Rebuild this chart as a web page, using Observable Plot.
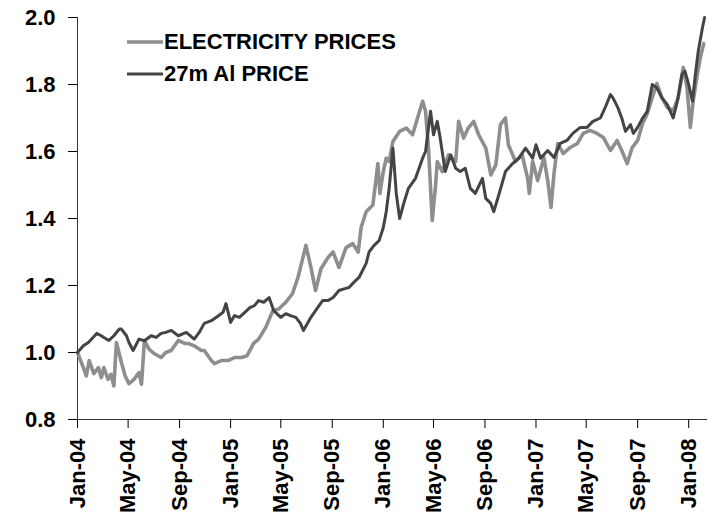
<!DOCTYPE html>
<html>
<head>
<meta charset="utf-8">
<script src="https://cdn.jsdelivr.net/npm/d3@7"></script>
<script src="https://cdn.jsdelivr.net/npm/@observablehq/plot@0.6"></script>
<style>
  html, body { margin: 0; padding: 0; background: #fff; }
  #wrap { position: relative; width: 709px; height: 514px; font-family: "Liberation Sans", Arial, sans-serif; }
  #legend { position: absolute; left: 127px; top: 26px; font-weight: bold; font-size: 22px; color: #000; }
  #legend .row { display: flex; align-items: center; height: 32px; }
  #legend svg { width: 36px; height: 6px; margin-right: 1px; }
</style>
</head>
<body>
<div id="wrap"><div id="chart"></div><div id="legend"></div></div>
<script>
// ---- Data ----
const seriesNames = ["ELECTRICITY PRICES", "27m Al PRICE"];
const seriesColors = ["#8e8e8e", "#444444"];

const elecDates = [
  "2004-01-01","2004-01-15","2004-01-22","2004-01-29","2004-02-09","2004-02-20","2004-02-27","2004-03-04",
  "2004-03-14","2004-03-21","2004-03-28","2004-04-03","2004-04-15","2004-04-24","2004-05-03","2004-05-15",
  "2004-05-27","2004-06-02","2004-06-09","2004-06-20","2004-07-02","2004-07-19","2004-07-30","2004-08-12",
  "2004-08-29","2004-09-13","2004-09-22","2004-10-06","2004-10-23","2004-10-30","2004-11-16","2004-11-23",
  "2004-12-10","2004-12-26",
  "2005-01-10","2005-01-27","2005-02-09","2005-02-25","2005-03-09","2005-03-26","2005-04-12","2005-04-26",
  "2005-05-13","2005-05-29","2005-06-11","2005-06-23","2005-06-30","2005-07-12","2005-07-23","2005-08-05",
  "2005-08-22","2005-09-03","2005-09-17","2005-10-04","2005-10-20","2005-11-02","2005-11-09","2005-11-21",
  "2005-12-07","2005-12-14","2005-12-19","2005-12-24",
  "2006-01-01","2006-01-08","2006-01-15","2006-01-24","2006-02-09","2006-02-25","2006-03-12","2006-03-19",
  "2006-04-05","2006-04-12","2006-04-19","2006-04-28","2006-05-06","2006-05-10","2006-05-22","2006-06-06",
  "2006-06-23","2006-06-30","2006-07-12","2006-07-23","2006-08-05","2006-08-17","2006-09-03","2006-09-15",
  "2006-09-27","2006-10-08","2006-10-20","2006-10-27","2006-11-13","2006-11-29","2006-12-12","2006-12-16",
  "2006-12-24",
  "2007-01-05","2007-01-20","2007-01-29","2007-02-06","2007-02-13","2007-02-22","2007-03-07","2007-03-24",
  "2007-04-10","2007-04-24","2007-05-10","2007-05-27","2007-06-11","2007-06-28","2007-07-14","2007-07-25",
  "2007-08-07","2007-08-19","2007-09-01","2007-09-13","2007-09-24","2007-10-06","2007-10-17","2007-10-29",
  "2007-11-11","2007-11-25","2007-12-07","2007-12-19","2007-12-28",
  "2008-01-05","2008-01-12","2008-01-22","2008-01-29","2008-02-06"
];
const elecValues = [
  1.00,0.955,0.93,0.976,0.937,0.955,0.925,0.955,
  0.92,0.935,0.90,1.03,0.97,0.93,0.907,0.92,
  0.94,0.905,1.036,1.01,0.997,0.985,1.00,1.006,
  1.036,1.027,1.027,1.02,1.006,1.006,0.976,0.967,
  0.976,0.976,
  0.985,0.985,0.99,1.027,1.04,1.075,1.125,1.13,
  1.15,1.176,1.224,1.284,1.32,1.254,1.185,1.25,
  1.284,1.30,1.254,1.313,1.325,1.30,1.373,1.42,
  1.44,1.51,1.564,1.475,
  1.54,1.58,1.57,1.63,1.66,1.67,1.65,1.68,
  1.75,1.72,1.61,1.394,1.50,1.57,1.54,1.59,
  1.57,1.69,1.64,1.67,1.69,1.65,1.61,1.53,
  1.56,1.68,1.70,1.62,1.57,1.59,1.52,1.475,
  1.57,
  1.513,1.582,1.513,1.433,1.534,1.624,1.594,1.612,
  1.624,1.654,1.663,1.654,1.642,1.603,1.633,1.603,
  1.564,1.612,1.633,1.684,1.713,1.761,1.803,1.761,
  1.731,1.722,1.761,1.851,1.791,
  1.672,1.752,1.833,1.881,1.922
];

const alDates = [
  "2004-01-01","2004-01-15","2004-01-27","2004-02-16","2004-02-27","2004-03-04","2004-03-16","2004-03-28",
  "2004-04-10","2004-04-15","2004-04-27","2004-05-03","2004-05-13","2004-05-27","2004-06-09","2004-06-25",
  "2004-07-07","2004-07-19","2004-07-30","2004-08-12","2004-08-29","2004-09-17","2004-10-06","2004-10-18",
  "2004-10-30","2004-11-16","2004-12-03","2004-12-14","2004-12-21",
  "2005-01-01","2005-01-10","2005-01-22","2005-02-04","2005-02-16","2005-02-27","2005-03-09","2005-03-21",
  "2005-04-03","2005-04-14","2005-05-01","2005-05-13","2005-05-24","2005-06-06","2005-06-17","2005-06-24",
  "2005-07-12","2005-07-28","2005-08-09","2005-08-22","2005-09-03","2005-09-17","2005-09-29","2005-10-11",
  "2005-10-23","2005-11-04","2005-11-21","2005-11-28","2005-12-10","2005-12-22",
  "2006-01-01","2006-01-08","2006-01-15","2006-01-24","2006-02-01","2006-02-09","2006-02-20","2006-03-02",
  "2006-03-19","2006-04-05","2006-04-12","2006-04-24","2006-05-01","2006-05-10","2006-05-17","2006-05-29",
  "2006-06-11","2006-06-23","2006-07-04","2006-07-16","2006-07-28","2006-08-09","2006-08-26","2006-09-03",
  "2006-09-15","2006-09-22","2006-10-04","2006-10-20","2006-11-06","2006-11-21","2006-12-07","2006-12-24",
  "2007-01-01","2007-01-12","2007-01-29","2007-02-13","2007-02-28","2007-03-16","2007-03-30","2007-04-17",
  "2007-05-03","2007-05-17","2007-06-04","2007-06-15","2007-06-28","2007-07-04","2007-07-16","2007-07-25",
  "2007-08-03","2007-08-15","2007-08-22","2007-09-01","2007-09-13","2007-09-24","2007-10-06","2007-10-17",
  "2007-10-29","2007-11-11","2007-11-25","2007-12-05","2007-12-16","2007-12-23",
  "2008-01-01","2008-01-10","2008-01-17","2008-01-24","2008-02-03","2008-02-08"
];
const alValues = [
  1.00,1.02,1.03,1.057,1.05,1.045,1.036,1.05,
  1.07,1.07,1.05,1.03,1.006,1.04,1.035,1.05,
  1.045,1.057,1.06,1.066,1.05,1.06,1.04,1.06,
  1.087,1.095,1.11,1.12,1.146,
  1.09,1.11,1.105,1.12,1.134,1.14,1.155,1.15,
  1.164,1.125,1.105,1.116,1.11,1.105,1.087,1.066,
  1.105,1.134,1.155,1.155,1.164,1.185,1.19,1.194,
  1.21,1.224,1.266,1.30,1.32,1.334,
  1.373,1.42,1.49,1.61,1.475,1.40,1.45,1.49,
  1.52,1.58,1.60,1.72,1.65,1.69,1.64,1.54,
  1.59,1.55,1.54,1.55,1.49,1.475,1.52,1.46,
  1.445,1.42,1.47,1.54,1.564,1.58,1.61,1.58,
  1.62,1.58,1.603,1.582,1.624,1.633,1.654,1.672,
  1.672,1.69,1.70,1.73,1.77,1.76,1.73,1.70,
  1.66,1.68,1.654,1.672,1.70,1.72,1.80,1.79,
  1.76,1.74,1.70,1.75,1.83,1.84,
  1.80,1.75,1.83,1.90,1.97,2.00
];

const xTickDates = ["2004-01-01","2004-05-01","2004-09-01","2005-01-01","2005-05-01","2005-09-01",
  "2006-01-01","2006-05-01","2006-09-01","2007-01-01","2007-05-01","2007-09-01","2008-01-01"];
const yTicks = [0.8, 1.0, 1.2, 1.4, 1.6, 1.8, 2.0];
const xDomain = ["2004-01-01", "2008-02-15"];

// ---- Build tables ----
const elec = elecDates.map((d, i) => ({date: new Date(d), value: elecValues[i]}));
const al = alDates.map((d, i) => ({date: new Date(d), value: alValues[i]}));
const fmtX = d3.utcFormat("%b-%y");

const chart = Plot.plot({
  width: 709,
  height: 514,
  marginLeft: 77,
  marginRight: 2,
  marginTop: 17,
  marginBottom: 95,
  style: {fontFamily: "'Liberation Sans', Arial, sans-serif", fontSize: "22px", fontWeight: "bold", color: "#000", background: "#fff"},
  x: {type: "utc", domain: xDomain.map(d => new Date(d))},
  y: {domain: [0.8, 2.0]},
  marks: [
    Plot.ruleY([0.8], {stroke: "#333", strokeWidth: 1}),
    Plot.ruleX([new Date(xDomain[0])], {y1: 0.8, y2: 2.0, stroke: "#333", strokeWidth: 1}),
    Plot.axisY({ticks: yTicks, tickFormat: d3.format(".1f"), tickSize: 9, tickPadding: 13, label: null, strokeOpacity: 1}),
    Plot.axisX({ticks: xTickDates.map(d => new Date(d)), tickFormat: fmtX, tickRotate: -90, tickSize: 9, tickPadding: 10, label: null}),
    Plot.line(elec, {x: "date", y: "value", stroke: seriesColors[0], strokeWidth: 3.6}),
    Plot.line(al, {x: "date", y: "value", stroke: seriesColors[1], strokeWidth: 3})
  ]
});
document.getElementById("chart").appendChild(chart);

// ---- Legend ----
const legend = document.getElementById("legend");
seriesNames.forEach((name, i) => {
  const row = document.createElement("div");
  row.className = "row";
  row.innerHTML = `<svg viewBox="0 0 36 6"><line x1="0" y1="3" x2="36" y2="3" stroke="${seriesColors[i]}" stroke-width="${i === 0 ? 3.6 : 3}"/></svg><span>${name}</span>`;
  legend.appendChild(row);
});
</script>
</body>
</html>
